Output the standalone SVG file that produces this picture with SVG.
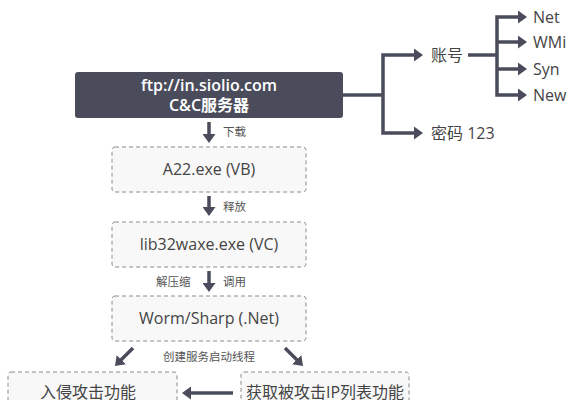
<svg xmlns="http://www.w3.org/2000/svg" width="575" height="400" viewBox="0 0 575 400">
<style>
text{font-family:"Open Sans","Noto Sans","Noto Sans CJK SC",sans-serif;}
.box{fill:#f8f8f8;stroke:#8a8a8a;stroke-width:1;stroke-dasharray:4 3;}
.bt{font-size:16px;fill:#444;text-anchor:middle;}
.lbl{font-size:11.5px;fill:#555;}
.tl{font-size:16px;fill:#444;}
.c{fill:none;stroke:#4a4c5c;stroke-width:3.5;}
.ca{fill:none;stroke:#4a4c5c;stroke-width:3.5;marker-end:url(#ah);}
</style>
<defs>
<marker id="ah" viewBox="0 0 9 13" markerWidth="9" markerHeight="13" refX="3" refY="6.5" orient="auto-start-reverse" markerUnits="userSpaceOnUse">
<path d="M0,0 L9,6.5 L0,13 z" fill="#4a4c5c"/>
</marker>
</defs>
<rect width="575" height="400" fill="#ffffff"/>
<g id="connectors">
<path class="ca" d="M209,122 V137"/>
<path class="ca" d="M209,196 V210"/>
<path class="ca" d="M209,271 V286"/>
<path class="ca" d="M133,348 L119.2,361.8"/>
<path class="ca" d="M285,348 L298.8,361.8"/>
<path class="ca" d="M233,393 H188"/>
<path class="c" d="M343,95 H383"/>
<path class="c" d="M417,55 H383 V133 H417" style="marker-start:url(#ah);marker-end:url(#ah)"/>
<path class="c" d="M468,55 H497"/>
<path class="c" d="M521,17 H497 V95 H521" style="marker-start:url(#ah);marker-end:url(#ah)"/>
<path class="ca" d="M497,42 H521"/>
<path class="ca" d="M497,69 H521"/>
</g>
<g id="labels">
<text class="lbl" x="223" y="136">下载</text>
<text class="lbl" x="223" y="211">释放</text>
<text class="lbl" x="156" y="286">解压缩</text>
<text class="lbl" x="223" y="286">调用</text>
<text class="lbl" x="209" y="361" text-anchor="middle">创建服务启动线程</text>
</g>
<g id="server">
<rect x="75" y="72" width="268" height="46" rx="3" fill="#4a4c5c"/>
<text x="209" y="91" font-size="16" font-weight="600" fill="#fff" text-anchor="middle">ftp://in.siolio.com</text>
<text x="209" y="111" font-size="16" font-weight="600" fill="#fff" text-anchor="middle">C&amp;C服务器</text>
</g>
<g id="a22">
<rect class="box" x="112" y="147" width="194" height="45" rx="3"/>
<text class="bt" x="209" y="175">A22.exe (VB)</text>
</g>
<g id="lib32">
<rect class="box" x="112" y="222" width="194" height="45" rx="3"/>
<text class="bt" x="209" y="250">lib32waxe.exe (VC)</text>
</g>
<g id="worm">
<rect class="box" x="112" y="296" width="194" height="45" rx="3"/>
<text class="bt" x="209" y="324">Worm/Sharp (.Net)</text>
</g>
<g id="attack">
<rect class="box" x="8" y="372" width="169" height="45" rx="3"/>
<text class="bt" x="88" y="398">入侵攻击功能</text>
</g>
<g id="iplist">
<rect class="box" x="241" y="372" width="168" height="45" rx="3"/>
<text class="bt" x="325" y="398">获取被攻击IP列表功能</text>
</g>
<g id="account"><text class="tl" x="431" y="61">账号</text></g>
<g id="password"><text class="tl" x="431" y="139">密码 123</text></g>
<g id="net"><text class="tl" x="533" y="23">Net</text></g>
<g id="wmi"><text class="tl" x="533" y="48">WMi</text></g>
<g id="syn"><text class="tl" x="533" y="75">Syn</text></g>
<g id="new"><text class="tl" x="533" y="101">New</text></g>
</svg>
